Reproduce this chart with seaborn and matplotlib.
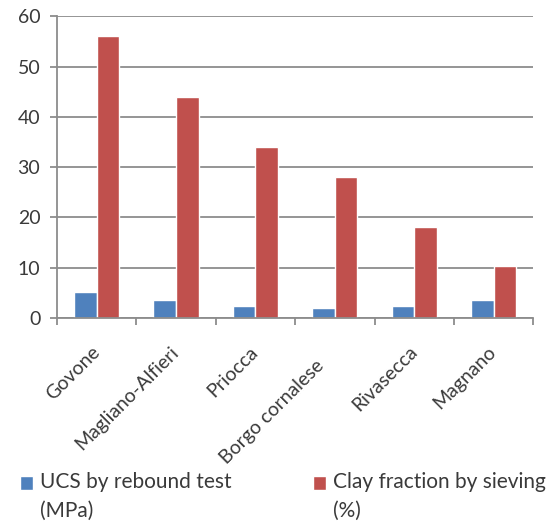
import matplotlib
matplotlib.use('Agg')
import matplotlib.pyplot as plt
import matplotlib.transforms as mtransforms
import pandas as pd
import seaborn as sns

SITES = ['Govone', 'Magliano-Alfieri', 'Priocca', 'Borgo cornalese', 'Rivasecca', 'Magnano']
UCS_MPA = [5.1, 3.6, 2.3, 1.9, 2.3, 3.5]
CLAY_PCT = [56, 44, 34, 28, 18, 10.4]
SERIES = ['UCS by rebound test\n(MPa)', 'Clay fraction by sieving\n(%)']
COLORS = ['#4F81BD', '#C0504D']
Y_TICKS = [0, 10, 20, 30, 40, 50, 60]

GRID = '#8c8c8c'
TEXT = '#3a3a3a'
FONT_SIZE = 14
LEGEND_SIZE = 15

frame = pd.concat([
    pd.DataFrame({'Site': SITES, 'Value': UCS_MPA, 'Series': SERIES[0]}),
    pd.DataFrame({'Site': SITES, 'Value': CLAY_PCT, 'Series': SERIES[1]}),
])

sns.set_theme(style='white')
plt.rcParams['font.family'] = ['Lato', 'DejaVu Sans']

fig = plt.figure(figsize=(5.5, 5.23), dpi=100)
ax = fig.add_axes([0.1036, 0.392, 0.866, 0.577])
sns.barplot(data=frame, x='Site', y='Value', hue='Series', order=SITES,
            hue_order=SERIES, palette=COLORS, width=0.57, saturation=1,
            ax=ax, legend=True)

ax.set_ylim(0, 60)
ax.set_xlim(-0.5, len(SITES) - 0.5)
ax.set_yticks(Y_TICKS)
ax.set_yticklabels([str(v) for v in Y_TICKS], fontsize=FONT_SIZE, color=TEXT)
ax.yaxis.grid(True, color=GRID, linewidth=1.3)
ax.set_axisbelow(True)
for side in ('top', 'right'):
    ax.spines[side].set_visible(False)
for side in ('left', 'bottom'):
    ax.spines[side].set_color(GRID)
    ax.spines[side].set_linewidth(1.3)
ax.tick_params(axis='y', which='major', left=True, length=5, width=1.3,
               color=GRID, pad=7)
ax.set_xticks([i - 0.5 for i in range(len(SITES) + 1)], minor=True)
ax.tick_params(axis='x', which='minor', bottom=True, length=5, width=1.3,
               color=GRID)
ax.set_xticks(range(len(SITES)))
ax.set_xticklabels(SITES, rotation=45, ha='right', rotation_mode='anchor',
                   fontsize=FONT_SIZE, color=TEXT)
ax.tick_params(axis='x', which='major', bottom=False, pad=12)
ax.set_xlabel('')
ax.set_ylabel('')

# Excel nudges the labels a little left, and the long one further along its slope
for label in ax.get_xticklabels():
    dx, dy = (-0.20, -0.14) if label.get_text() == 'Borgo cornalese' else (-0.06, 0)
    label.set_transform(label.get_transform()
                        + mtransforms.ScaledTranslation(dx, dy, fig.dpi_scale_trans))

handles, labels = ax.get_legend_handles_labels()
ax.legend_.remove()
leg = fig.legend(handles, labels, loc='upper left',
                 bbox_to_anchor=(0.0364, 0.0975), ncol=2, frameon=False,
                 fontsize=LEGEND_SIZE, handlelength=0.63, handleheight=0.63,
                 handletextpad=0.34, columnspacing=3.9, borderpad=0,
                 borderaxespad=0, labelcolor=TEXT)
for text in leg.get_texts():
    text.set_linespacing(1.55)

# legend key sits beside the first line of the wrapped label, not the middle
fig.canvas.draw()
renderer = fig.canvas.get_renderer()
for patch, text in zip(leg.legend_handles, leg.get_texts()):
    text_top = text.get_window_extent(renderer).y1
    patch_top = patch.get_window_extent(renderer).y1
    shift_px = (text_top - 4) - patch_top
    patch.set_y(patch.get_y() + shift_px * 72 / fig.dpi)

fig.savefig('out.png', dpi=100)
